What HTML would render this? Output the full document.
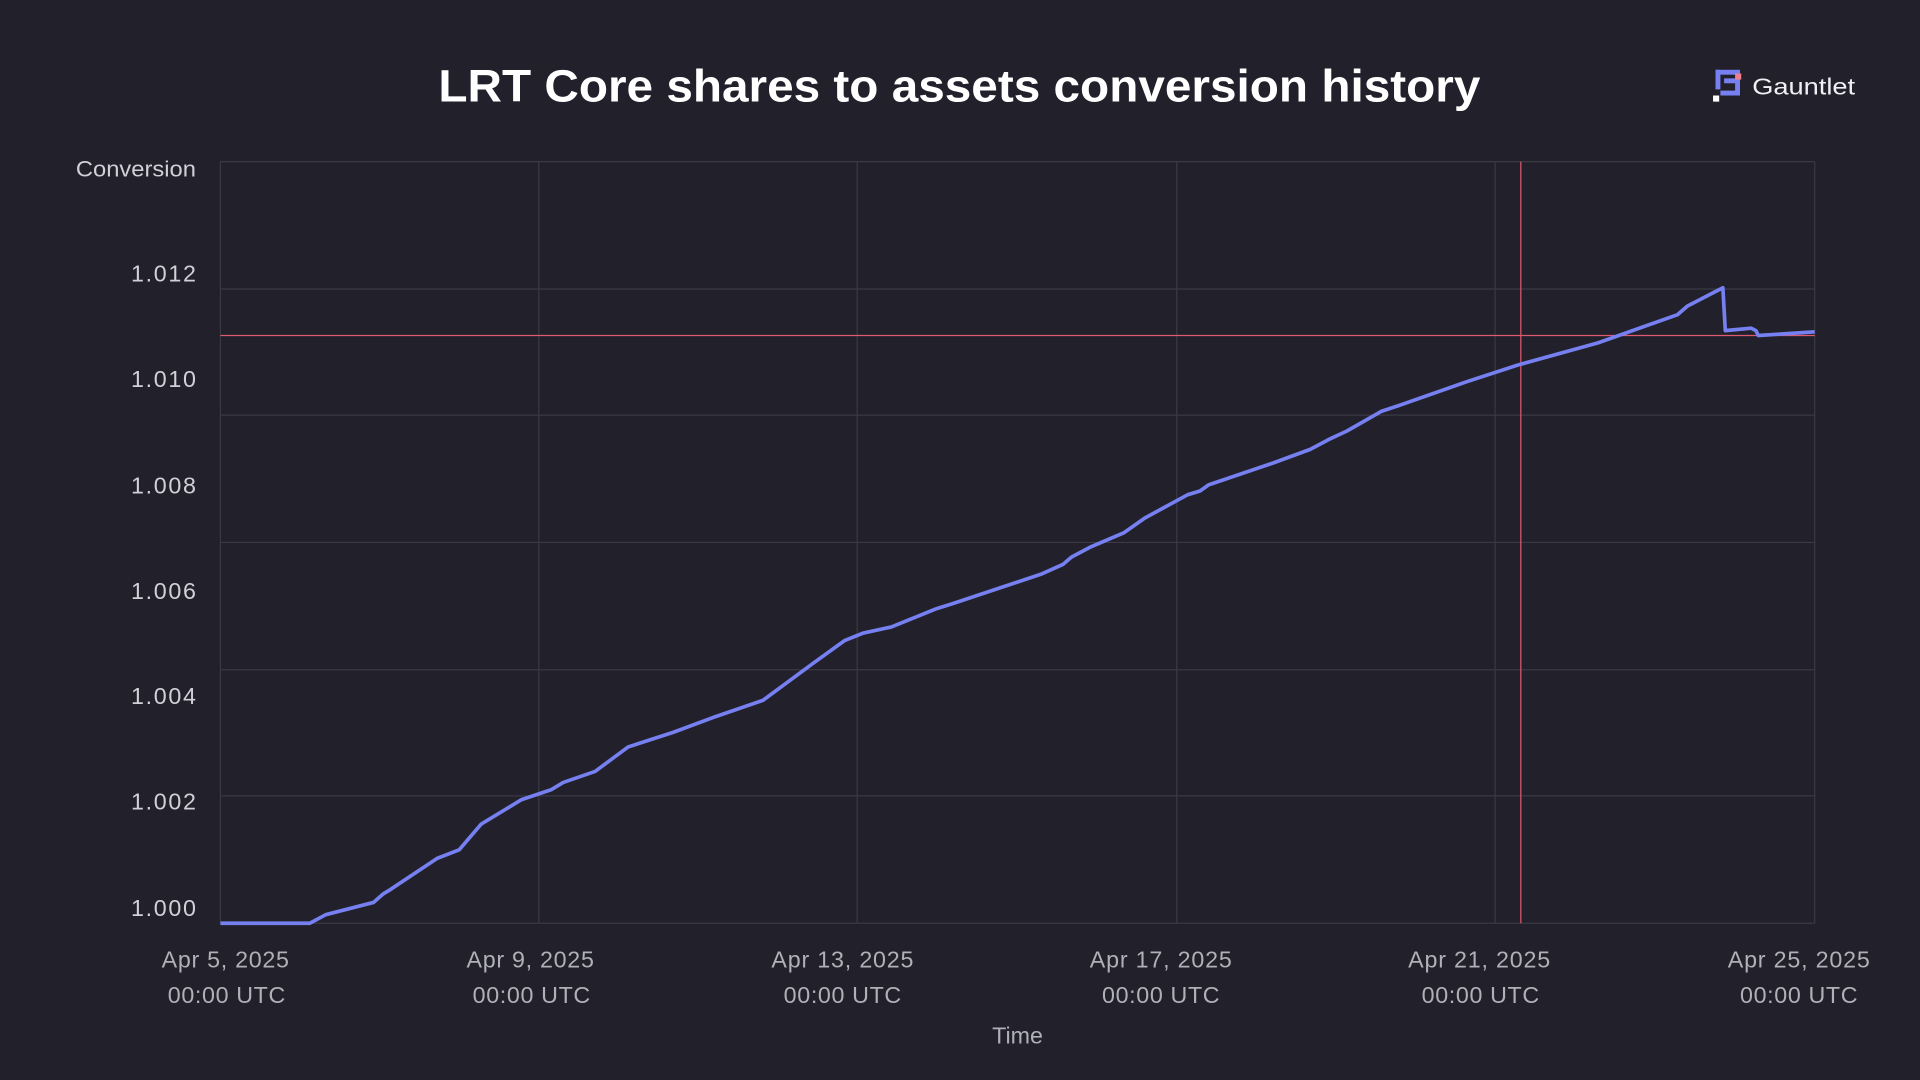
<!DOCTYPE html>
<html><head><meta charset="utf-8"><style>
html,body{margin:0;padding:0;background:#21202b;width:1920px;height:1080px;overflow:hidden}
svg{display:block}
</style></head><body>
<svg width="1920" height="1080" viewBox="0 0 1568 882" xmlns="http://www.w3.org/2000/svg" font-family="Liberation Sans, sans-serif">
<rect width="1568" height="882" fill="#21202b"/>
<text x="358" y="83" font-size="37" font-weight="bold" fill="#ffffff" textLength="851" lengthAdjust="spacingAndGlyphs">LRT Core shares to assets conversion history</text>
<g>
<rect x="1401" y="57" width="20" height="4" fill="#7680f0"/>
<rect x="1401" y="57" width="4" height="16" fill="#7680f0"/>
<rect x="1408" y="64" width="13" height="4" fill="#7680f0"/>
<rect x="1417" y="64" width="4" height="14" fill="#7680f0"/>
<rect x="1405" y="74" width="16" height="4" fill="#7680f0"/>
<rect x="1417" y="60" width="5" height="5" fill="#f08090"/>
<rect x="1399" y="78" width="5" height="5" fill="#ffffff"/>
<text x="1431" y="77" font-size="19" fill="#f0f0f4" textLength="84" lengthAdjust="spacingAndGlyphs">Gauntlet</text>
</g>
<g stroke="#3a3944" stroke-width="1">
<line x1="180" y1="132" x2="1482" y2="132"/>
<line x1="180" y1="236" x2="1482" y2="236"/>
<line x1="180" y1="339" x2="1482" y2="339"/>
<line x1="180" y1="443" x2="1482" y2="443"/>
<line x1="180" y1="547" x2="1482" y2="547"/>
<line x1="180" y1="650" x2="1482" y2="650"/>
<line x1="180" y1="754" x2="1482" y2="754"/>
<line x1="180" y1="132" x2="180" y2="754"/>
<line x1="440" y1="132" x2="440" y2="754"/>
<line x1="700" y1="132" x2="700" y2="754"/>
<line x1="961" y1="132" x2="961" y2="754"/>
<line x1="1221" y1="132" x2="1221" y2="754"/>
<line x1="1482" y1="132" x2="1482" y2="754"/>
</g>
<line x1="180" y1="274" x2="1482" y2="274" stroke="#e05a6f" stroke-width="1"/>
<line x1="1242" y1="132" x2="1242" y2="754" stroke="#e05a6f" stroke-width="1"/>
<polyline fill="none" stroke="#7680f0" stroke-width="3" stroke-linejoin="round" points="180,754 253,754 266,747 305,737 313,730 318,727 357,701 375,694 393,673 426,653 450,645 460,639 486,630 513,610 550,598 585,585 623,572 665,541 690,523 705,517 728,512 765,497 778,493 820,479 850,469 868,461 875,455 890,447 918,435 935,423 970,404 980,401 987,396 1040,378 1070,367 1085,359 1100,352 1128,336 1140,332 1200,311 1240,298 1305,280 1370,257 1378,250 1407,235 1409,270 1430,268 1434,270 1436,274 1482,271"/>
<text x="62" y="144" font-size="18" fill="#d0d0d8" textLength="98" lengthAdjust="spacingAndGlyphs">Conversion</text>
<g font-size="19" fill="#d0d0d8">
<text x="107" y="230" textLength="53">1.012</text>
<text x="107" y="316" textLength="53">1.010</text>
<text x="107" y="403" textLength="53">1.008</text>
<text x="107" y="489" textLength="53">1.006</text>
<text x="107" y="575" textLength="53">1.004</text>
<text x="107" y="661" textLength="53">1.002</text>
<text x="107" y="748" textLength="53">1.000</text>
</g>
<g font-size="19" fill="#b0b0b8">
<text x="132" y="790" textLength="104">Apr 5, 2025</text>
<text x="381" y="790" textLength="104">Apr 9, 2025</text>
<text x="630" y="790" textLength="116">Apr 13, 2025</text>
<text x="890" y="790" textLength="116">Apr 17, 2025</text>
<text x="1150" y="790" textLength="116">Apr 21, 2025</text>
<text x="1411" y="790" textLength="116">Apr 25, 2025</text>
<text x="137" y="819" textLength="96">00:00 UTC</text>
<text x="386" y="819" textLength="96">00:00 UTC</text>
<text x="640" y="819" textLength="96">00:00 UTC</text>
<text x="900" y="819" textLength="96">00:00 UTC</text>
<text x="1161" y="819" textLength="96">00:00 UTC</text>
<text x="1421" y="819" textLength="96">00:00 UTC</text>
</g>
<text x="831" y="852" text-anchor="middle" font-size="19" fill="#b0b0b8">Time</text>
</svg>
</body></html>
